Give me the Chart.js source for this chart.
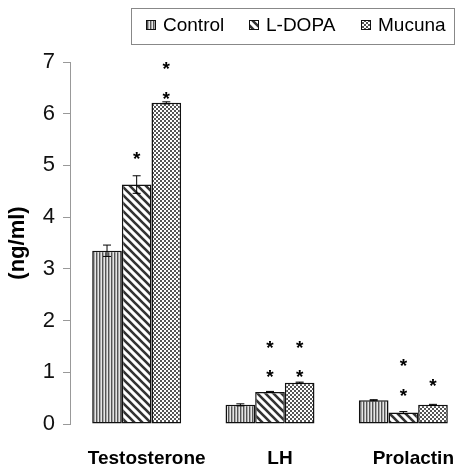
<!DOCTYPE html>
<html>
<head>
<meta charset="utf-8">
<script src="https://cdn.jsdelivr.net/npm/chart.js@4.4.0/dist/chart.umd.min.js"></script>
<style>
  html, body { margin: 0; padding: 0; background: #fff; overflow: hidden; }
  #wrap { position: relative; width: 472px; height: 465px; }
</style>
</head>
<body>
<div id="wrap"><canvas id="chart"></canvas></div>
<script>
// ---------- datos ----------
const categories = ['Testosterone', 'LH', 'Prolactin'];
const seriesNames = ['Control', 'L-DOPA', 'Mucuna'];

const controlValues = [3.35, 0.37, 0.46];
const ldopaValues   = [4.63, 0.62, 0.22];
const mucunaValues  = [6.21, 0.80, 0.37];

const controlErr = [0.11, 0.02, 0.01];
const ldopaErr   = [0.17, 0.01, 0.02];
const mucunaErr  = [0.02, 0.01, 0.01];

// posiciones de los asteriscos (en ng/ml)
const controlStars = [[], [], []];
const ldopaStars   = [[5.22], [1.01, 1.57], [0.64, 1.21]];
const mucunaStars  = [[6.38, 6.96], [1.01, 1.57], [0.83]];

const yTicks = [0, 1, 2, 3, 4, 5, 6, 7];

// ---------- patrones ----------
function makePattern(size, draw) {
  const c = document.createElement('canvas');
  c.width = size; c.height = size;
  const g = c.getContext('2d');
  g.fillStyle = '#fff';
  g.fillRect(0, 0, size, size);
  draw(g, size);
  return document.createElement('canvas').getContext('2d').createPattern(c, 'repeat');
}

const vStripes = makePattern(3, (g) => {
  g.fillStyle = '#555'; g.fillRect(0, 0, 1, 3);
  g.fillStyle = '#aaa'; g.fillRect(1, 0, 1, 3);
  g.fillStyle = '#e6e6e6'; g.fillRect(2, 0, 1, 3);
});

const diagStripes = makePattern(8, (g, s) => {
  g.strokeStyle = '#333';
  g.lineWidth = 2.6;
  g.beginPath();
  g.moveTo(-s, -s); g.lineTo(2 * s, 2 * s);
  g.moveTo(-s, 0); g.lineTo(s, 2 * s);
  g.moveTo(0, -s); g.lineTo(2 * s, s);
  g.stroke();
});

const checker = makePattern(4, (g) => {
  g.fillStyle = '#555';
  g.fillRect(0, 0, 2, 2);
  g.fillRect(2, 2, 2, 2);
});

const errSets = [controlErr, ldopaErr, mucunaErr];
const starSets = [controlStars, ldopaStars, mucunaStars];

// ---------- plugin: barras de error, asteriscos y leyenda ----------
const extrasPlugin = {
  id: 'extras',
  afterDatasetsDraw(chart) {
    const ctx = chart.ctx;
    const y = chart.scales.y;
    ctx.save();
    chart.data.datasets.forEach((ds, di) => {
      const meta = chart.getDatasetMeta(di);
      meta.data.forEach((bar, i) => {
        const v = ds.data[i];
        const e = errSets[di][i];
        const yTop = y.getPixelForValue(v + e);
        const yBot = y.getPixelForValue(v - e);
        ctx.strokeStyle = '#000';
        ctx.lineWidth = 1;
        ctx.beginPath();
        ctx.moveTo(bar.x, yTop); ctx.lineTo(bar.x, yBot);
        ctx.moveTo(bar.x - 4, yTop); ctx.lineTo(bar.x + 4, yTop);
        ctx.moveTo(bar.x - 4, yBot); ctx.lineTo(bar.x + 4, yBot);
        ctx.stroke();

        ctx.fillStyle = '#000';
        ctx.font = 'bold 19px "Liberation Sans", Arial, sans-serif';
        ctx.textAlign = 'center';
        ctx.textBaseline = 'alphabetic';
        starSets[di][i].forEach(sv => {
          ctx.fillText('*', bar.x, y.getPixelForValue(sv) + 11);
        });
      });
    });
    ctx.restore();
  },
  afterDraw(chart) {
    const ctx = chart.ctx;
    ctx.save();
    ctx.strokeStyle = '#888';
    ctx.lineWidth = 1;
    ctx.strokeRect(131.5, 8.5, 323, 36);
    const swatchX = [146, 249, 361];
    ctx.font = '19px "Liberation Sans", Arial, sans-serif';
    ctx.textBaseline = 'middle';
    ctx.textAlign = 'left';
    chart.data.datasets.forEach((ds, di) => {
      const sx = swatchX[di];
      ctx.fillStyle = ds.backgroundColor;
      ctx.fillRect(sx, 20, 10, 10);
      ctx.strokeStyle = '#111';
      ctx.strokeRect(sx + 0.5, 20.5, 9, 9);
      ctx.fillStyle = '#000';
      ctx.fillText(ds.label, sx + 17, 26);
    });
    ctx.restore();
  }
};

const patterns = [vStripes, diagStripes, checker];
const valueSets = [controlValues, ldopaValues, mucunaValues];

new Chart(document.getElementById('chart'), {
  type: 'bar',
  data: {
    labels: categories,
    datasets: seriesNames.map((name, i) => ({
      label: name,
      data: valueSets[i],
      backgroundColor: patterns[i],
      borderColor: '#111',
      borderWidth: 1.5,
      borderSkipped: false,
      barPercentage: 1,
      categoryPercentage: 0.667
    }))
  },
  options: {
    responsive: true,
    maintainAspectRatio: false,
    animation: false,
    devicePixelRatio: 1,
    layout: { padding: { top: 62, right: 2, left: 0, bottom: 0 } },
    plugins: {
      legend: { display: false },
      tooltip: { enabled: false }
    },
    scales: {
      x: {
        grid: { display: false },
        border: { display: false },
        ticks: {
          color: '#000',
          font: { family: '"Liberation Sans", Arial, sans-serif', size: 19, weight: 'bold' },
          padding: 15,
          labelOffset: 10,
          maxRotation: 0
        },
        afterFit(scale) { scale.height = 41; }
      },
      y: {
        min: 0,
        max: 7,
        afterBuildTicks(scale) { scale.ticks = yTicks.map(v => ({ value: v })); },
        grid: { drawOnChartArea: false, color: '#999', tickLength: 7 },
        border: { color: '#999', width: 1 },
        ticks: {
          color: '#111',
          padding: 8,
          font: { family: '"Liberation Sans", Arial, sans-serif', size: 22 }
        },
        title: {
          display: true,
          text: '(ng/ml)',
          color: '#000',
          font: { family: '"Liberation Sans", Arial, sans-serif', size: 22, weight: 'bold' },
          padding: { top: 5, bottom: 0 }
        },
        afterFit(scale) { scale.width = 70; }
      }
    }
  },
  plugins: [extrasPlugin]
});
</script>
</body>
</html>
